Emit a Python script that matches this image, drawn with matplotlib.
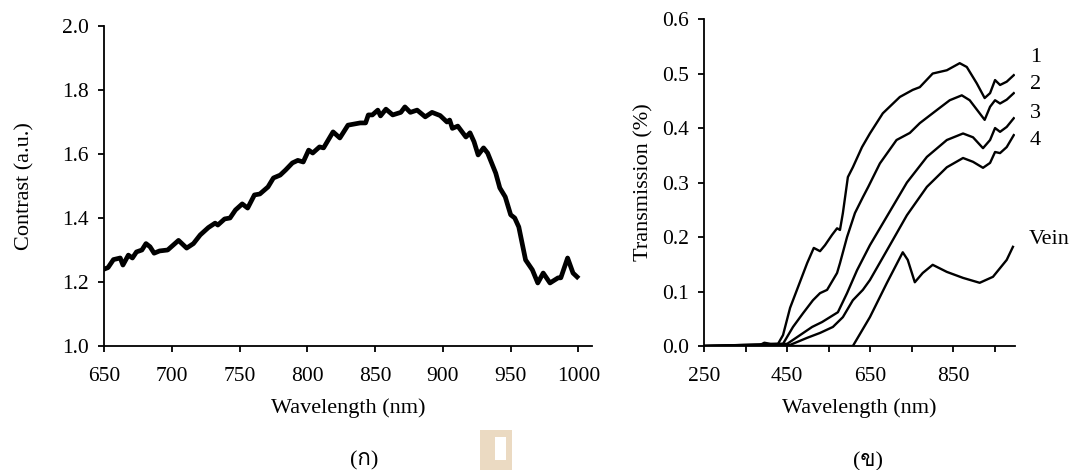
import matplotlib
matplotlib.use("Agg")
import matplotlib.pyplot as plt
from matplotlib import font_manager
from matplotlib.ft2font import FT2Font
from matplotlib.patches import Rectangle

# ============================================================
# Data
# ============================================================
contrast_wl = [650, 653, 657, 662, 664, 668, 671, 674, 678, 681,
               684, 687, 691, 697, 705, 711, 716, 721, 727, 732,
               734, 739, 743, 747, 752, 756, 761, 765, 771, 775,
               780, 784, 789, 793, 797, 801, 804, 809, 812, 819,
               824, 830, 839, 843, 845, 848, 852, 854, 858, 863,
               869, 872, 876, 881, 887, 892, 898, 903, 905, 907,
               911, 917, 920, 923, 926, 930, 933, 939, 942, 946,
               950, 953, 956, 959, 961, 966, 970, 974, 979, 985,
               987, 992, 996, 999]
contrast = [1.24, 1.245, 1.27, 1.275, 1.253, 1.284, 1.275, 1.294, 1.30, 1.32,
            1.31, 1.29, 1.297, 1.30, 1.33, 1.306, 1.32, 1.347, 1.37, 1.384,
            1.378, 1.397, 1.40, 1.425, 1.444, 1.431, 1.472, 1.475, 1.497, 1.525,
            1.534, 1.55, 1.572, 1.58, 1.575, 1.612, 1.603, 1.622, 1.619, 1.669,
            1.65, 1.69, 1.697, 1.697, 1.722, 1.722, 1.737, 1.719, 1.74, 1.722,
            1.73, 1.747, 1.73, 1.737, 1.716, 1.73, 1.72, 1.70, 1.706, 1.68,
            1.687, 1.653, 1.666, 1.638, 1.597, 1.619, 1.603, 1.54, 1.494, 1.466,
            1.41, 1.40, 1.372, 1.31, 1.269, 1.238, 1.197, 1.228, 1.197, 1.213,
            1.213, 1.275, 1.228, 1.216]

wl_1 = [250, 380, 395, 410, 428, 440, 457, 476, 498, 514, 529, 541, 558, 570,
        577, 584, 596, 608, 630, 649, 680, 721, 752, 769, 800, 834, 865, 882,
        906, 925, 938, 950, 962, 978, 995]
t_1 = [0, 0, 0.006, 0.004, 0.004, 0.02, 0.07, 0.108, 0.152, 0.18, 0.174, 0.185,
       0.204, 0.216, 0.213, 0.244, 0.31, 0.328, 0.365, 0.39, 0.427, 0.457, 0.47,
       0.475, 0.50, 0.506, 0.519, 0.512, 0.482, 0.455, 0.464, 0.488, 0.479,
       0.485, 0.497]

wl_2 = [250, 440, 464, 488, 512, 529, 546, 570, 577, 594, 613, 632, 645, 673,
        713, 745, 769, 810, 841, 870, 889, 913, 925, 938, 950, 962, 978, 995]
t_2 = [0, 0.004, 0.035, 0.06, 0.084, 0.097, 0.103, 0.134, 0.152, 0.20, 0.244,
       0.273, 0.292, 0.335, 0.378, 0.391, 0.409, 0.433, 0.451, 0.46, 0.451,
       0.427, 0.415, 0.439, 0.451, 0.445, 0.452, 0.464]

wl_3 = [250, 450, 481, 510, 534, 553, 572, 594, 618, 649, 690, 738, 786, 834,
        873, 897, 921, 938, 950, 962, 978, 995]
t_3 = [0, 0.004, 0.02, 0.035, 0.044, 0.053, 0.062, 0.097, 0.139, 0.185, 0.238,
       0.30, 0.347, 0.378, 0.39, 0.383, 0.363, 0.378, 0.40, 0.393, 0.402, 0.418]

wl_4 = [250, 457, 498, 529, 560, 584, 608, 632, 649, 697, 738, 786, 834, 873,
        897, 921, 938, 950, 962, 978, 995]
t_4 = [0, 0.002, 0.015, 0.024, 0.035, 0.053, 0.084, 0.103, 0.121, 0.185, 0.24,
       0.292, 0.328, 0.345, 0.338, 0.327, 0.336, 0.356, 0.354, 0.365, 0.387]

wl_vein = [250, 608, 649, 690, 728, 740, 757, 776, 800, 834, 873, 913, 945,
           978, 993]
t_vein = [0, 0, 0.053, 0.116, 0.172, 0.158, 0.117, 0.134, 0.149, 0.136, 0.125,
          0.116, 0.127, 0.158, 0.182]

curve_labels = ["1", "2", "3", "4", "Vein"]
label_wl = [1034, 1034, 1034, 1034, 1032]
label_t = [0.530, 0.479, 0.426, 0.378, 0.196]

# ============================================================
# Fonts: Times-like serif, plus any installed font with Thai glyphs
# ============================================================
thai_family = None
for f in font_manager.fontManager.ttflist:
    try:
        if 0x0E01 in FT2Font(f.fname).get_charmap():
            thai_family = f.name
            break
    except Exception:
        pass

families = ["Liberation Serif"]
if thai_family:
    families.append(thai_family)
families.append("DejaVu Sans")
plt.rcParams["font.family"] = families
plt.rcParams["font.size"] = 16

# ============================================================
# Figure
# ============================================================
fig = plt.figure(figsize=(10.75, 4.70), dpi=100)

ax1 = fig.add_axes([0.0967, 0.2638, 0.454, 0.681])
ax1.plot(contrast_wl, contrast, color="black", linewidth=3.4,
         solid_joinstyle="round")
ax1.set_xlim(650, 1010)
ax1.set_ylim(1.0, 2.0)
ax1.set_xticks([650, 700, 750, 800, 850, 900, 950, 1000])
ax1.set_yticks([1.0, 1.2, 1.4, 1.6, 1.8, 2.0])
ax1.set_yticklabels(["1.0", "1.2", "1.4", "1.6", "1.8", "2.0"])
ax1.set_xlabel("Wavelength (nm)", labelpad=9)
ax1.set_ylabel("Contrast (a.u.)", labelpad=20)

ax2 = fig.add_axes([0.6549, 0.2638, 0.2893, 0.6957])
for wl, t in [(wl_1, t_1), (wl_2, t_2), (wl_3, t_3), (wl_4, t_4),
              (wl_vein, t_vein)]:
    ax2.plot(wl, t, color="black", linewidth=1.7)
ax2.set_xlim(250, 998)
ax2.set_ylim(0, 0.6)
ax2.set_xticks([250, 350, 450, 550, 650, 750, 850, 950])
ax2.set_xticklabels(["250", "", "450", "", "650", "", "850", ""])
ax2.set_yticks([0.0, 0.1, 0.2, 0.3, 0.4, 0.5, 0.6])
ax2.set_yticklabels(["0.0", "0.1", "0.2", "0.3", "0.4", "0.5", "0.6"])
ax2.set_xlabel("Wavelength (nm)", labelpad=9)
ax2.set_ylabel("Transmission (%)", labelpad=6)

for s, x, y in zip(curve_labels, label_wl, label_t):
    ax2.text(x, y, s, ha="left", va="center", clip_on=False, fontsize=16)

for ax in (ax1, ax2):
    for side in ("top", "right"):
        ax.spines[side].set_visible(False)
    for side in ("left", "bottom"):
        ax.spines[side].set_linewidth(1.3)
    ax.tick_params(direction="out", length=4, width=1.3, labelsize=15.5)
    ax.tick_params(axis="x", pad=11)
    ax.tick_params(axis="y", pad=7)

fig.text(0.339, 0.020, "(ก)", ha="center", va="center", fontsize=16)
fig.text(0.807, 0.018, "(ข)", ha="center", va="center", fontsize=16)

# faint watermark block between the captions
fig.patches.append(Rectangle((480 / 1075, 0), 32 / 1075, 40 / 470,
                             transform=fig.transFigure, facecolor="#ebdac2",
                             edgecolor="none"))
fig.patches.append(Rectangle((495 / 1075, 10 / 470), 11 / 1075, 23 / 470,
                             transform=fig.transFigure, facecolor="white",
                             edgecolor="none"))

fig.savefig("out.png", dpi=100)
